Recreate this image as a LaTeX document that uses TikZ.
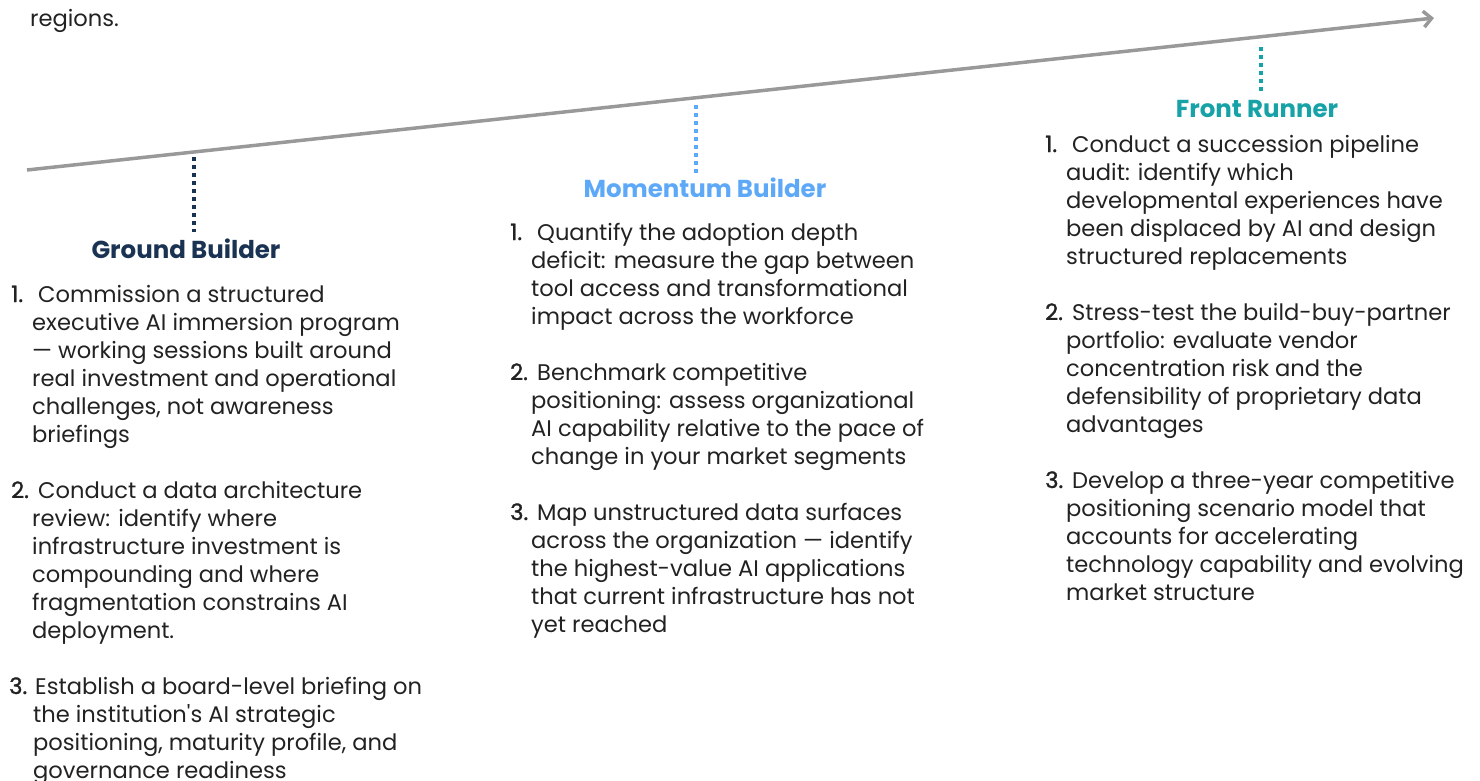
\documentclass[tikz,border=0pt]{standalone}
\usepackage{fontspec}
\setmainfont{Poppins}[Ligatures=TeXOff]
\newfontfamily\numfont{Poppins}[Ligatures=TeXOff, FakeBold=1.2]
\usetikzlibrary{arrows.meta, positioning, calc}

\definecolor{groundcol}{HTML}{1B3353}
\definecolor{momentumcol}{HTML}{5EA9F7}
\definecolor{frontcol}{HTML}{16A2A6}
\definecolor{axiscol}{HTML}{999999}
\definecolor{bodycol}{HTML}{222222}

% lines of one action, baseline on the first line
\newcommand{\actionlines}[1]{\begin{tabular}[t]{@{}l@{}}#1\end{tabular}}

\begin{document}
\begin{tikzpicture}[x=1pt, y=-1pt,
    axis/.style={draw=axiscol, line width=3.5pt, -{Straight Barb[length=8pt, width=16pt, line width=3.5pt]}},
    tick/.style={line width=3.5pt, dash pattern=on 3.5pt off 4.5pt},
    stage/.style={inner sep=0pt, anchor=base, font=\fontsize{24.5}{28}\selectfont\bfseries},
    num/.style={inner sep=0pt, anchor=base west, text=bodycol, font=\fontsize{22.6}{28}\selectfont\numfont},
    item/.style={inner sep=0pt, anchor=base west, text=bodycol, font=\fontsize{22.6}{28}\selectfont}
]
    \useasboundingbox (0,0) rectangle (1480,780);

    % leftover of the sentence above
    \node[item] (lead) at (30,26) {regions.};

    % maturity axis
    \coordinate (axstart) at (27,170);
    \coordinate (axend) at (1434,18);
    \draw[axis] (axstart) -- (axend);

    % stage titles and their ticks
    \node[stage, text=groundcol] (ground) at (186,258) {Ground Builder};
    \node[stage, text=momentumcol] (momentum) at (705,197) {Momentum Builder};
    \node[stage, text=frontcol] (front) at (1257,117) {Front Runner};

    \coordinate (gtop) at (194,157);
    \coordinate (mtop) at (696,105);
    \coordinate (ftop) at (1261,47);
    \draw[tick, groundcol] (gtop) -- (gtop |- 0,232);
    \draw[tick, momentumcol] (mtop) -- (mtop |- 0,173);
    \draw[tick, frontcol] (ftop) -- (ftop |- 0,92);

    % Ground Builder actions
    \node[num] (g1n) at (11,302) {1.};
    \node[item] (g1) at (32,302) {\actionlines{\hspace*{6pt}Commission a structured\\executive AI immersion program\\— working sessions built around\\real investment and operational\\challenges, not awareness\\briefings}};
    \node[num] (g2n) at (11,498) {2.};
    \node[item] (g2) at (32,498) {\actionlines{\hspace*{6pt}Conduct a data architecture\\review: identify where\\infrastructure investment is\\compounding and where\\fragmentation constrains AI\\deployment.}};
    \node[num] (g3n) at (9,694) {3.};
    \node[item] (g3) at (33,694) {\actionlines{\hspace*{2pt}Establish a board-level briefing on\\the institution's AI strategic\\positioning, maturity profile, and\\governance readiness}};

    % Momentum Builder actions
    \node[num] (m1n) at (510,240) {1.};
    \node[item] (m1) at (531,240) {\actionlines{\hspace*{6pt}Quantify the adoption depth\\deficit: measure the gap between\\tool access and transformational\\impact across the workforce}};
    \node[num] (m2n) at (510,380) {2.};
    \node[item] (m2) at (531,380) {\actionlines{\hspace*{6pt}Benchmark competitive\\positioning: assess organizational\\AI capability relative to the pace of\\change in your market segments}};
    \node[num] (m3n) at (510,520) {3.};
    \node[item] (m3) at (531,520) {\actionlines{\hspace*{6pt}Map unstructured data surfaces\\across the organization — identify\\the highest-value AI applications\\that current infrastructure has not\\yet reached}};

    % Front Runner actions
    \node[num] (f1n) at (1045,152) {1.};
    \node[item] (f1) at (1066,152) {\actionlines{\hspace*{6pt}Conduct a succession pipeline\\audit: identify which\\developmental experiences have\\been displaced by AI and design\\structured replacements}};
    \node[num] (f2n) at (1045,320) {2.};
    \node[item] (f2) at (1066,320) {\actionlines{\hspace*{6pt}Stress-test the build-buy-partner\\portfolio: evaluate vendor\\concentration risk and the\\defensibility of proprietary data\\advantages}};
    \node[num] (f3n) at (1045,488) {3.};
    \node[item] (f3) at (1066,488) {\actionlines{\hspace*{6pt}Develop a three-year competitive\\positioning scenario model that\\accounts for accelerating\\technology capability and evolving\\market structure}};
\end{tikzpicture}
\end{document}
